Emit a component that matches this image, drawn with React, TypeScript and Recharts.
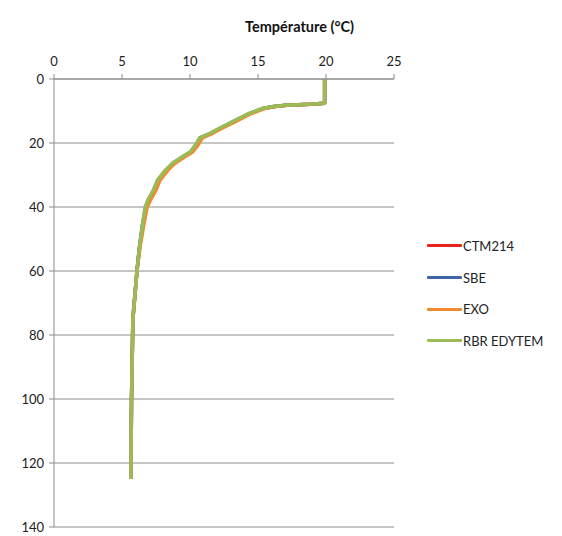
import { LineChart, Line, XAxis, YAxis, CartesianGrid } from "recharts";

// depth (m) shared by every probe
const DEPTHS = [0, 7.6, 7.9, 8.2, 8.6, 9.2, 11.0, 13.4, 15.3, 16.9, 18.4, 20.6, 22.8, 24.4, 26.3, 28.4, 31.6, 34.7, 37.8, 40, 45.6, 52, 60, 75, 100, 125];

// temperature (°C) per probe
const CTM214 = [19.9, 19.9, 18.85, 17.1, 16.2, 15.4, 14.3, 13.2, 12.3, 11.6, 10.8, 10.5, 10.1, 9.5, 8.8, 8.3, 7.7, 7.4, 7.0, 6.8, 6.55, 6.3, 6.1, 5.8, 5.7, 5.65];
const SBE = [19.9, 19.9, 18.8, 17.05, 16.15, 15.35, 14.25, 13.15, 12.25, 11.55, 10.75, 10.45, 10.05, 9.45, 8.75, 8.25, 7.65, 7.35, 6.95, 6.75, 6.5, 6.3, 6.1, 5.8, 5.7, 5.65];
const EXO = [19.9, 19.9, 18.9, 17.2, 16.3, 15.5, 14.4, 13.3, 12.4, 11.7, 10.9, 10.6, 10.2, 9.6, 8.9, 8.4, 7.8, 7.5, 7.1, 6.85, 6.6, 6.35, 6.1, 5.8, 5.7, 5.65];
const RBR = [19.9, 19.9, 18.8, 17.0, 16.1, 15.3, 14.2, 13.1, 12.2, 11.5, 10.7, 10.4, 10.0, 9.4, 8.7, 8.2, 7.6, 7.3, 6.9, 6.7, 6.5, 6.3, 6.1, 5.8, 5.7, 5.65];

const TEMP_TICKS = [0, 5, 10, 15, 20, 25];
const DEPTH_TICKS = [0, 20, 40, 60, 80, 100, 120, 140];

const SERIES = [
  { key: "ctm", name: "CTM214", color: "#e8231d" },
  { key: "sbe", name: "SBE", color: "#3f64a6" },
  { key: "exo", name: "EXO", color: "#f08a2e" },
  { key: "rbr", name: "RBR EDYTEM", color: "#9bbb59" },
];

const rows = DEPTHS.map((depth, i) => ({
  depth,
  ctm: CTM214[i],
  sbe: SBE[i],
  exo: EXO[i],
  rbr: RBR[i],
}));

const FONT = "Lato, 'Liberation Sans', sans-serif";
const AXIS = "#8c8c8c";

function ProbeLegend() {
  return (
    <div
      style={{
        position: "absolute",
        left: 427,
        top: 230,
        fontFamily: FONT,
        fontSize: 13,
        color: "#222",
      }}
    >
      {SERIES.map((s) => (
        <div key={s.key} style={{ display: "flex", alignItems: "center", height: 31.7 }}>
          <div style={{ width: 35, height: 3, background: s.color, borderRadius: 1 }} />
          <span style={{ marginLeft: 1 }}>{s.name}</span>
        </div>
      ))}
    </div>
  );
}

export default function App() {
  return (
    <div style={{ position: "absolute", left: 0, top: 0, width: 562, height: 536, background: "#fff" }}>
      <div
        style={{
          position: "absolute",
          left: 245,
          top: 18,
          fontFamily: FONT,
          fontWeight: 700,
          fontSize: 14.5,
          color: "#111",
        }}
      >
        Température (°C)
      </div>
      <LineChart
        layout="vertical"
        width={562}
        height={536}
        data={rows}
        margin={{ top: 49, left: 14, right: 168, bottom: 9 }}
      >
        <CartesianGrid vertical={false} stroke={AXIS} />
        <XAxis
          type="number"
          orientation="top"
          domain={[0, 25]}
          ticks={TEMP_TICKS}
          height={30}
          stroke={AXIS}
          tickSize={5}
          tickMargin={8}
          tick={{ fill: "#222", fontSize: 13, fontFamily: FONT }}
        />
        <YAxis
          type="number"
          dataKey="depth"
          domain={[0, 140]}
          ticks={DEPTH_TICKS}
          width={40}
          stroke={AXIS}
          tickSize={5}
          tickMargin={5}
          tick={{ fill: "#222", fontSize: 13, fontFamily: FONT }}
        />
        {SERIES.map((s) => (
          <Line
            key={s.key}
            dataKey={s.key}
            name={s.name}
            type="linear"
            stroke={s.color}
            strokeWidth={3.5}
            strokeLinejoin="round"
            dot={false}
            isAnimationActive={false}
          />
        ))}
      </LineChart>
      <ProbeLegend />
    </div>
  );
}
